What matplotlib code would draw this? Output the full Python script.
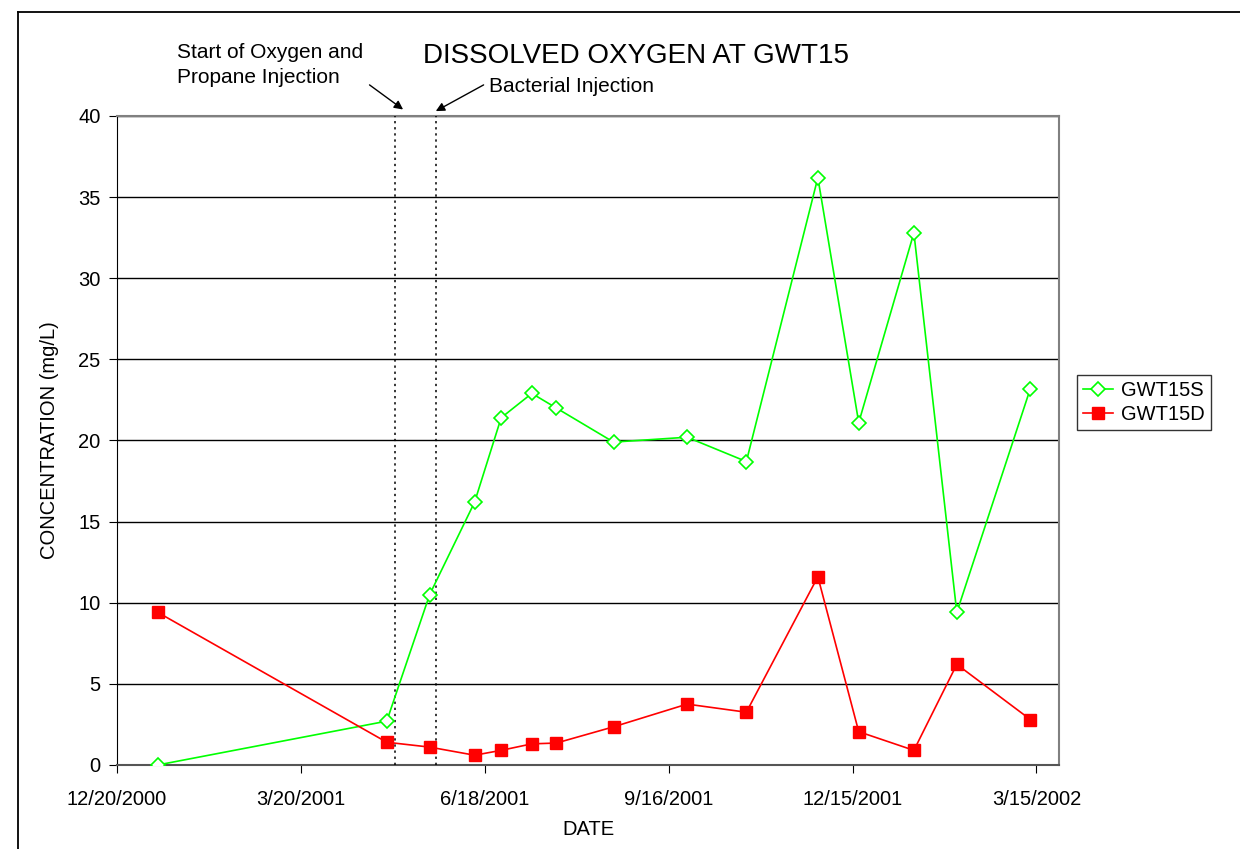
import matplotlib.pyplot as plt
import matplotlib.dates as mdates
from matplotlib.lines import Line2D
from matplotlib.ticker import FuncFormatter
from datetime import date

plt.rcParams['font.family'] = ['Liberation Sans', 'DejaVu Sans']

# sample dates and readings
dates = ['2001-01-09', '2001-05-01', '2001-05-22', '2001-06-13', '2001-06-26',
         '2001-07-11', '2001-07-23', '2001-08-20', '2001-09-25', '2001-10-24',
         '2001-11-28', '2001-12-18', '2002-01-14', '2002-02-04', '2002-03-12']
gwt15s = [0.0, 2.7, 10.5, 16.2, 21.4, 22.9, 22.0, 19.9, 20.2, 18.7,
          36.2, 21.1, 32.8, 9.4, 23.2]
gwt15d = [9.4, 1.4, 1.1, 0.6, 0.9, 1.3, 1.35, 2.35, 3.75, 3.25,
          11.6, 2.05, 0.9, 6.2, 2.8]

tick_dates = ['2000-12-20', '2001-03-20', '2001-06-18', '2001-09-16',
              '2001-12-15', '2002-03-15']
x_range = ['2000-12-20', '2002-03-26']
events = ['2001-05-05', '2001-05-25']
yticks = [0, 5, 10, 15, 20, 25, 30, 35, 40]


def to_num(s):
    return mdates.date2num(date.fromisoformat(s))


def main():
    fig = plt.figure(figsize=(12.4, 8.49), dpi=100)
    ax = fig.add_axes([0.0944, 0.099, 0.7596, 0.7644])

    x = [to_num(d) for d in dates]
    ax.plot(x, gwt15s, color='#00ff00', lw=1.2, marker='D', ms=7.5,
            mfc='white', mec='#00ff00', mew=1.2, label='GWT15S', zorder=4)
    ax.plot(x, gwt15d, color='#ff0000', lw=1.2, marker='s', ms=9,
            mfc='#ff0000', mec='#ff0000', label='GWT15D', zorder=4)

    for e in events:
        ax.axvline(to_num(e), color='black', lw=1.1, ls=(0, (1.5, 2.5)), zorder=3)

    ax.set_xlim(to_num(x_range[0]), to_num(x_range[1]))
    ax.set_ylim(0, 40)
    ax.set_yticks(yticks)
    ax.set_xticks([to_num(d) for d in tick_dates])
    ax.xaxis.set_major_formatter(FuncFormatter(
        lambda v, p: '{0.month}/{0.day}/{0.year}'.format(mdates.num2date(v))))
    ax.yaxis.grid(True, color='black', lw=1)
    ax.set_axisbelow(True)
    ax.tick_params(labelsize=14.5, length=6, direction='out', pad=6)
    ax.tick_params(axis='x', pad=12)

    for s in ['top', 'right']:
        ax.spines[s].set_color('#808080')
        ax.spines[s].set_linewidth(1.5)
    ax.spines['left'].set_color('black')
    ax.spines['bottom'].set_color('#555555')
    ax.spines['bottom'].set_linewidth(1.5)

    ax.set_xlabel('DATE', fontsize=14.5, labelpad=8)
    ax.set_ylabel('CONCENTRATION (mg/L)', fontsize=14.5, labelpad=14)

    fig.text(0.513, 0.934, 'DISSOLVED OXYGEN AT GWT15', fontsize=20,
             ha='center', va='center')

    # event labels and arrows
    fig.text(0.143, 0.9235, 'Start of Oxygen and\nPropane Injection',
             fontsize=15, ha='left', va='center', linespacing=1.45)
    fig.text(0.394, 0.8987, 'Bacterial Injection', fontsize=15,
             ha='left', va='center')
    arrow = dict(arrowstyle='-|>', color='black', lw=1, mutation_scale=13,
                 shrinkA=0, shrinkB=0)
    ax.annotate('', xy=(to_num(events[0]) + 4, 40.4), xycoords='data',
                xytext=(0.298, 0.9), textcoords='figure fraction',
                arrowprops=arrow, annotation_clip=False)
    ax.annotate('', xy=(to_num(events[1]), 40.3), xycoords='data',
                xytext=(0.39, 0.9), textcoords='figure fraction',
                arrowprops=arrow, annotation_clip=False)

    leg = fig.legend(loc='upper left', bbox_to_anchor=(0.8685, 0.558),
                     borderaxespad=0, fontsize=14.5, frameon=True,
                     fancybox=False, borderpad=0.3, handlelength=1.5,
                     handletextpad=0.4, labelspacing=0.25)
    leg.get_frame().set_edgecolor('black')
    leg.get_frame().set_linewidth(1)

    # outer chart frame (top and left edges visible)
    fig.add_artist(Line2D([0.0145, 1.0], [0.986, 0.986], color='black', lw=1.3))
    fig.add_artist(Line2D([0.0145, 0.0145], [0.0, 0.986], color='black', lw=1.3))

    fig.savefig('out.png', dpi=100)


if __name__ == '__main__':
    main()
